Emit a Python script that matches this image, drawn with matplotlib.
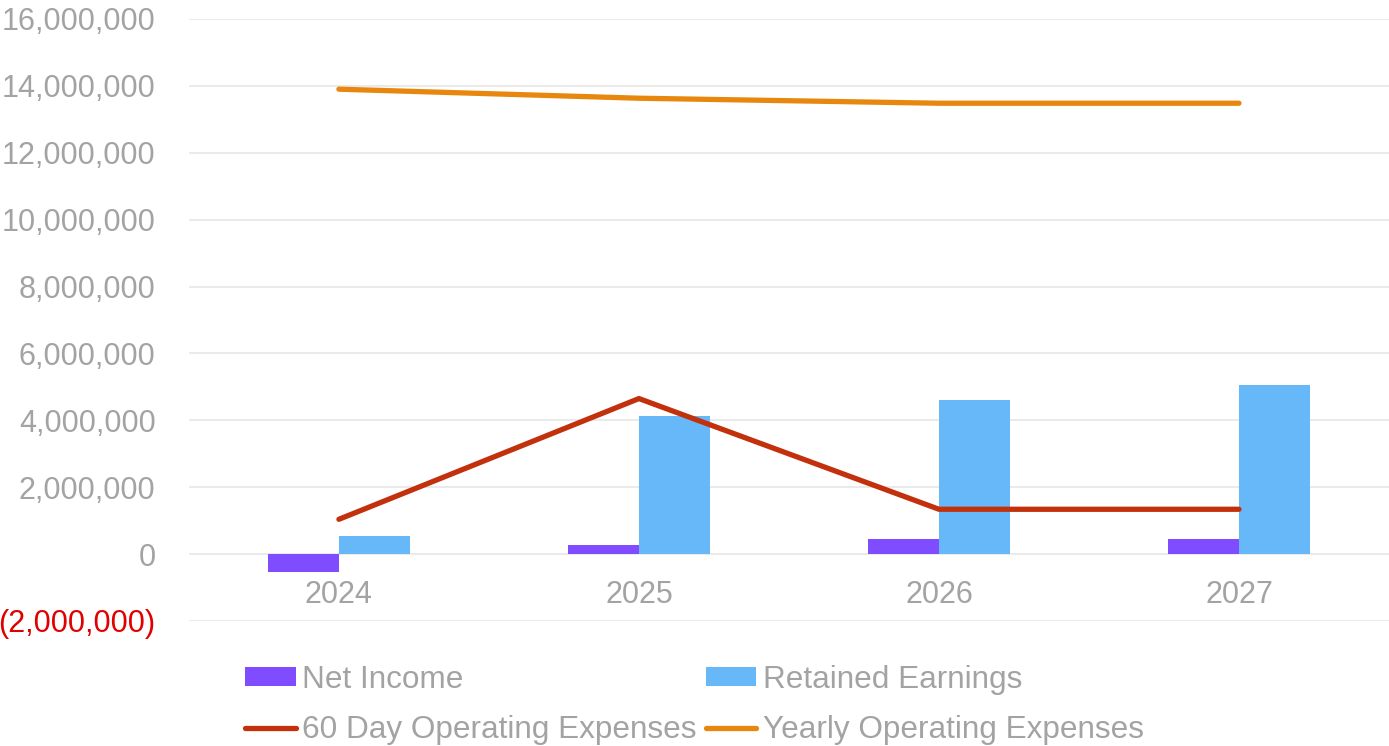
import matplotlib
matplotlib.use("Agg")
import matplotlib.pyplot as plt
import numpy as np

plt.rcParams['font.family'] = ['Liberation Sans', 'DejaVu Sans']

years = ['2024', '2025', '2026', '2027']
net_income = [-540000, 270000, 440000, 440000]
retained_earnings = [540000, 4130000, 4600000, 5050000]
opex_60_day = [1040000, 4650000, 1340000, 1340000]
opex_yearly = [13900000, 13630000, 13480000, 13480000]

y_ticks = [-2000000, 0, 2000000, 4000000, 6000000, 8000000,
           10000000, 12000000, 14000000, 16000000]

grey = '#A3A3A3'
purple = '#7F4DFF'
blue = '#66B8F9'
red = '#C2300C'
orange = '#E8870E'

fig = plt.figure(figsize=(13.89, 7.46), dpi=100)
ax = fig.add_axes([0.136, 0.1676, 0.864, 0.807])

x = np.arange(len(years))
w = 0.237
b1 = ax.bar(x - w / 2, net_income, w, color=purple, label='Net Income', zorder=2)
b2 = ax.bar(x + w / 2, retained_earnings, w, color=blue, label='Retained Earnings', zorder=2)
l1, = ax.plot(x, opex_60_day, color=red, lw=3.8, solid_capstyle='round',
              label='60 Day Operating Expenses', zorder=3)
l2, = ax.plot(x, opex_yearly, color=orange, lw=3.8, solid_capstyle='round',
              label='Yearly Operating Expenses', zorder=3)

ax.set_xlim(-0.5, 3.5)
ax.set_ylim(-2000000, 16000000)
ax.set_yticks(y_ticks)
labels = []
for v in y_ticks:
    if v < 0:
        labels.append('({:,})'.format(-v))
    else:
        labels.append('{:,}'.format(v))
ax.set_yticklabels(labels)

ax.spines['bottom'].set_position(('data', 0))
for s in ax.spines.values():
    s.set_visible(False)
ax.set_xticks(x)
ax.set_xticklabels(years)
ax.tick_params(axis='y', length=0, pad=24, labelsize=22, labelcolor=grey)
ax.tick_params(axis='x', length=0, pad=19, labelsize=22, labelcolor=grey)
# negative values shown in red, accounting style
for t, v in zip(ax.get_yticklabels(), y_ticks):
    if v < 0:
        t.set_color('#E00000')

ax.grid(axis='y', color='#E6E6E6', lw=1.2, zorder=0)
ax.set_axisbelow(True)

fig.legend([b1, l1, b2, l2],
           ['Net Income', '60 Day Operating Expenses',
            'Retained Earnings', 'Yearly Operating Expenses'],
           ncol=2, loc='center', bbox_to_anchor=(0.5, 0.055),
           frameon=False, fontsize=22.7, labelcolor=grey,
           handlelength=1.6, handleheight=0.55, handletextpad=0.2,
           columnspacing=0.3, labelspacing=0.66, borderpad=0)

fig.savefig('out.png', dpi=100)
